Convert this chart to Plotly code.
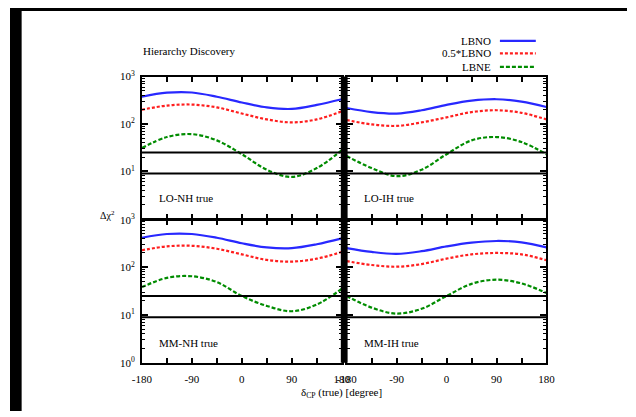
import plotly.graph_objects as go

# delta_CP (true) sampling points in degrees
delta_cp = [-180, -135, -90, -45, 0, 45, 90, 135, 180]

# Delta chi^2 for hierarchy discovery, per true scenario
lo_nh_lbno = [376, 457, 462, 376, 284, 224, 208, 253, 333]
lo_nh_half = [200, 245, 257, 224, 166, 125, 108, 125, 185]
lo_nh_lbne = [31, 53, 61, 45, 23, 10.8, 7.6, 11.7, 28]

lo_ih_lbno = [217, 178, 166, 195, 253, 310, 333, 296, 228]
lo_ih_half = [121, 98, 91, 108, 138, 178, 195, 172, 125]
lo_ih_lbne = [21, 11.7, 7.9, 10.8, 23, 45, 53, 41.5, 23]

mm_nh_lbno = [417, 500, 500, 417, 320, 262, 253, 305, 405]
mm_nh_half = [228, 275, 283, 245, 187, 143, 132, 152, 210]
mm_nh_lbne = [38.5, 60, 65, 49, 25, 15.5, 12, 16.6, 35.5]

mm_ih_lbno = [253, 210, 191, 218, 275, 330, 357, 335, 262]
mm_ih_half = [135, 112, 103, 117, 152, 187, 200, 187, 141]
mm_ih_lbne = [25, 14.3, 10.7, 13.5, 25, 45, 55, 46, 29]

# significance levels drawn as horizontal lines (5 sigma, 3 sigma)
thresholds = [25, 9]

series_names = ["LBNO", "0.5*LBNO", "LBNE"]
panel_labels = ["LO-NH true", "LO-IH true", "MM-NH true", "MM-IH true"]
x_tick_vals = [-180, -135, -90, -45, 0, 45, 90, 135, 180]
x_tick_text = ["-180", "", "-90", "", "0", "", "90", "", "180"]

W, H = 636, 417
FONT = "Liberation Serif"

colors = ["rgb(40,40,255)", "rgb(255,30,30)", "rgb(0,140,0)"]
dashes = ["solid", "3px,2px", "4px,2px"]

panels = [
    (lo_nh_lbno, lo_nh_half, lo_nh_lbne),
    (lo_ih_lbno, lo_ih_half, lo_ih_lbne),
    (mm_nh_lbno, mm_nh_half, mm_nh_lbne),
    (mm_ih_lbno, mm_ih_half, mm_ih_lbne),
]

# pixel boxes of the four panels: (left, right, top, bottom)
boxes = [
    (136, 342, 71, 218),
    (347, 553, 71, 218),
    (136, 342, 219, 367),
    (347, 553, 219, 367),
]

fig = go.Figure()

for i, (curves, box) in enumerate(zip(panels, boxes)):
    ax = "" if i == 0 else str(i + 1)
    for vals, name, c, d in zip(curves, series_names, colors, dashes):
        fig.add_trace(go.Scatter(
            x=delta_cp, y=vals, mode="lines", name=name, showlegend=False,
            line=dict(color=c, width=2.2, dash=d, shape="spline", smoothing=1.0),
            xaxis="x" + ax, yaxis="y" + ax,
        ))
    for t in thresholds:
        fig.add_trace(go.Scatter(
            x=[-180, 180], y=[t, t], mode="lines", showlegend=False,
            line=dict(color="black", width=2),
            xaxis="x" + ax, yaxis="y" + ax,
        ))

minor_vals = [m * 10 ** e for e in range(0, 3) for m in range(2, 10)]

layout = dict(
    width=W, height=H, margin=dict(l=0, r=0, t=0, b=0),
    paper_bgcolor="white", plot_bgcolor="white",
    font=dict(family=FONT, size=11, color="black"),
    showlegend=False,
)

for i, box in enumerate(boxes):
    l, r, t, b = box
    ax = "" if i == 0 else str(i + 1)
    bottom_row = i >= 2
    left_col = i % 2 == 0
    layout["xaxis" + ax] = dict(
        domain=[l / W, r / W], anchor="y" + ax, range=[-180, 180],
        tickmode="array", tickvals=x_tick_vals, ticktext=x_tick_text,
        showticklabels=bottom_row, ticks="inside", ticklen=5, tickwidth=1.5,
        tickcolor="black", showline=True, linecolor="black", linewidth=2,
        mirror="ticks", showgrid=False, zeroline=False, ticklabelstandoff=5,
        tickfont=dict(family=FONT, size=11),
    )
    if i == 0:
        yvals, ytext = [10, 100, 1000], ["10<sup>1</sup>", "10<sup>2</sup>", "10<sup>3</sup>"]
    else:
        yvals = [1, 10, 100, 1000]
        ytext = ["10<sup>0</sup>", "10<sup>1</sup>", "10<sup>2</sup>", "10<sup>3</sup>"]
    layout["yaxis" + ax] = dict(
        domain=[1 - b / H, 1 - t / H], anchor="x" + ax, type="log", range=[0, 3],
        tickmode="array", tickvals=yvals, ticktext=ytext,
        showticklabels=left_col, ticks="inside", ticklen=6, tickwidth=1.5,
        tickcolor="black", showline=True, linecolor="black", linewidth=2,
        mirror="ticks", showgrid=False, zeroline=False, ticklabelstandoff=3,
        minor=dict(tickmode="array", tickvals=minor_vals, ticks="inside",
                   ticklen=3, tickwidth=1, tickcolor="black", showgrid=False),
        tickfont=dict(family=FONT, size=11),
    )

fig.update_layout(**layout)

annotations = []
label_pos = [(152, 197), (363, 197), (152, 347), (363, 347)]
for txt, (px, py) in zip(panel_labels, label_pos):
    annotations.append(dict(
        text=txt, x=px / W, y=1 - py / H, xref="paper", yref="paper",
        xanchor="left", yanchor="middle", showarrow=False,
        font=dict(family=FONT, size=11),
    ))

annotations.append(dict(
    text="Hierarchy Discovery", x=135 / W, y=1 - 45 / H, xref="paper", yref="paper",
    xanchor="left", yanchor="middle", showarrow=False, font=dict(family=FONT, size=11),
))
annotations.append(dict(
    text="Δχ<sup>2</sup>", x=110 / W, y=1 - 214 / H, xref="paper", yref="paper",
    xanchor="right", yanchor="middle", showarrow=False, font=dict(family=FONT, size=10),
))
annotations.append(dict(
    text="δ<sub>CP</sub> (true) [degree]", x=342 / W, y=1 - 398 / H, xref="paper", yref="paper",
    xanchor="center", yanchor="middle", showarrow=False, font=dict(family=FONT, size=11),
))

# key in the upper right: label text, then a line sample
shapes = []
key_rows = [34, 47, 61]
for name, c, d, ry in zip(series_names, colors, dashes, key_rows):
    annotations.append(dict(
        text=name, x=498 / W, y=1 - ry / H, xref="paper", yref="paper",
        xanchor="right", yanchor="middle", showarrow=False, font=dict(family=FONT, size=11),
    ))
    shapes.append(dict(
        type="line", xref="paper", yref="paper",
        x0=505 / W, x1=542 / W, y0=1 - ry / H, y1=1 - ry / H,
        line=dict(color=c, width=2.2, dash=d),
    ))

# solid divider where the left and right panels meet
shapes.append(dict(type="rect", xref="paper", yref="paper",
                   x0=341 / W, x1=348 / W, y0=1 - 367 / H, y1=1 - 71 / H,
                   fillcolor="black", line=dict(width=0), layer="above"))

# dark frame strips along the left and top edges
shapes.append(dict(type="rect", xref="paper", yref="paper", x0=0, x1=12 / W, y0=0, y1=1,
                   fillcolor="black", line=dict(width=0), layer="above"))
shapes.append(dict(type="rect", xref="paper", yref="paper", x0=0, x1=1, y0=1 - 3 / H, y1=1,
                   fillcolor="black", line=dict(width=0), layer="above"))

fig.update_layout(annotations=annotations, shapes=shapes)

fig.write_html("out.html")
